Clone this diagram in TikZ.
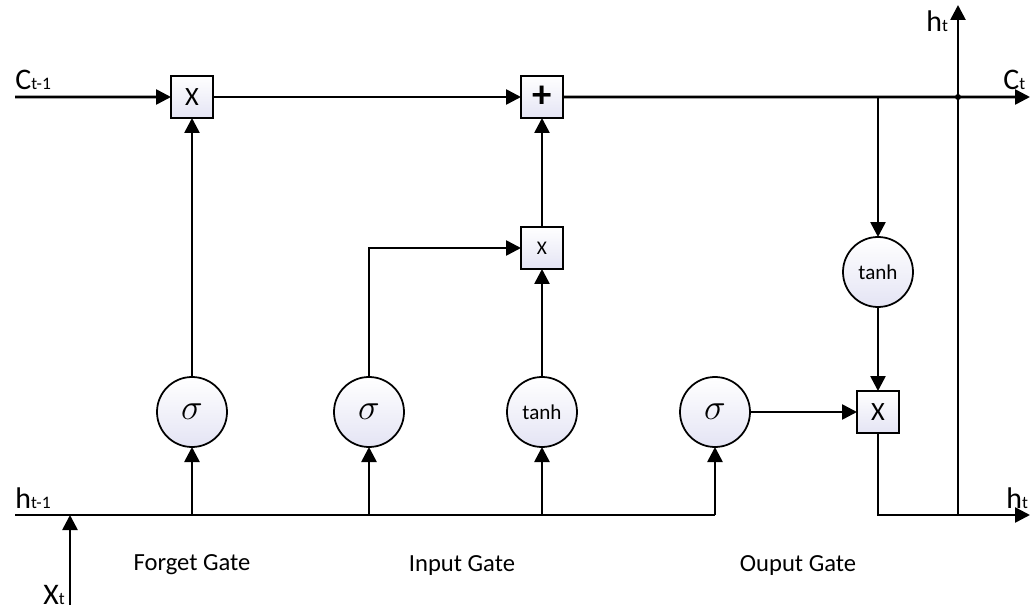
\documentclass[tikz,border=0pt]{standalone}
\usepackage{fontspec}
\setmainfont{Carlito}
\usepackage{tikz}
\usetikzlibrary{arrows.meta,positioning}
\definecolor{gatefill}{RGB}{228,228,244}

\begin{document}
\begin{tikzpicture}[
    gate/.style={draw, line width=1.3pt, rectangle, top color=white, bottom color=gatefill, minimum size=0.84cm, inner sep=0pt, outer sep=0pt, font=\fontsize{15}{15}\selectfont},
    smallgate/.style={gate, font=\fontsize{11}{11}\selectfont},
    circ/.style={draw, line width=1pt, circle, top color=white, bottom color=gatefill, minimum size=1.4cm, inner sep=0pt, outer sep=0pt, font=\fontsize{12}{12}\selectfont},
    sig/.style={circ, font=\fontsize{20}{20}\selectfont},
    arrow/.style={-{Triangle[length=3mm, width=3mm]}, line width=1.5pt},
    wire/.style={line width=1.5pt},
    lbl/.style={anchor=base west, inner sep=0pt, font=\fontsize{17}{17}\selectfont},
    gatename/.style={font=\fontsize{14}{14}\selectfont}
]
\useasboundingbox (0,0) rectangle (20.6,12.2);

% Gates
\node[sig] (sf) at (3.84,3.96) {$\sigma$};
\node[sig, right=2.14cm of sf] (si) {$\sigma$};
\node[circ, right=2.06cm of si] (tc) {tanh};
\node[sig, right=2.06cm of tc] (so) {$\sigma$};
\node[gate, above=5.18cm of sf] (fx) {X};
\node[gate, above=5.18cm of tc, font=\fontsize{22}{22}\selectfont] (add) {\textbf{+}};
\node[smallgate, above=2.16cm of tc] (ix) {X};
\node[gate, right=2.14cm of so] (ox) {X};
\node[circ, above=1.68cm of ox] (tc2) {tanh};

% Ends
\coordinate (cin) at (0.30,10.26);
\coordinate (cout) at (20.6,10.26);
\coordinate (hin) at (0.30,1.90);
\coordinate (hout) at (20.6,1.90);
\coordinate (xin) at (1.40,0.10);
\coordinate (hup) at (19.16,12.1);

% Labels
\node[lbl] (lcin) at (0.30,10.40) {C{\fontsize{10}{10}\selectfont t-1}};
\node[lbl] (lcout) at (20.06,10.40) {C{\fontsize{10}{10}\selectfont t}};
\node[lbl] (lhup) at (18.52,11.56) {h{\fontsize{10}{10}\selectfont t}};
\node[lbl] (lhout) at (20.12,2.04) {h{\fontsize{10}{10}\selectfont t}};
\node[lbl] (lhin) at (0.30,2.04) {h{\fontsize{10}{10}\selectfont t-1}};
\node[lbl] (lxin) at (0.86,0.12) {X{\fontsize{10}{10}\selectfont t}};
\node[gatename] (nf) at (3.84,0.90) {Forget Gate};
\node[gatename] (ni) at (9.24,0.90) {Input Gate};
\node[gatename] (no) at (15.96,0.90) {Ouput Gate};

% Cell state
\draw[arrow] (cin) -- (fx);
\draw[arrow] (fx) -- (add);
\draw[arrow] (add) -- (cout);
\draw[arrow] (tc2 |- add) -- (tc2);
\draw[arrow] (tc2) -- (ox);
\draw[arrow] (ox) |- (hout);
\draw[arrow] (hup |- hout) -- (hup);
\fill (hup |- add) circle (0.06);

% Hidden state and input
\draw[wire] (hin) -- (so |- hin);
\draw[arrow] (xin) -- (xin |- hin);
\draw[arrow] (sf |- hin) -- (sf);
\draw[arrow] (si |- hin) -- (si);
\draw[arrow] (tc |- hin) -- (tc);
\draw[arrow] (so |- hin) -- (so);

% Gate outputs
\draw[arrow] (sf) -- (fx);
\draw[arrow] (si) |- (ix);
\draw[arrow] (tc) -- (ix);
\draw[arrow] (ix) -- (add);
\draw[arrow] (so) -- (ox);

\end{tikzpicture}
\end{document}
